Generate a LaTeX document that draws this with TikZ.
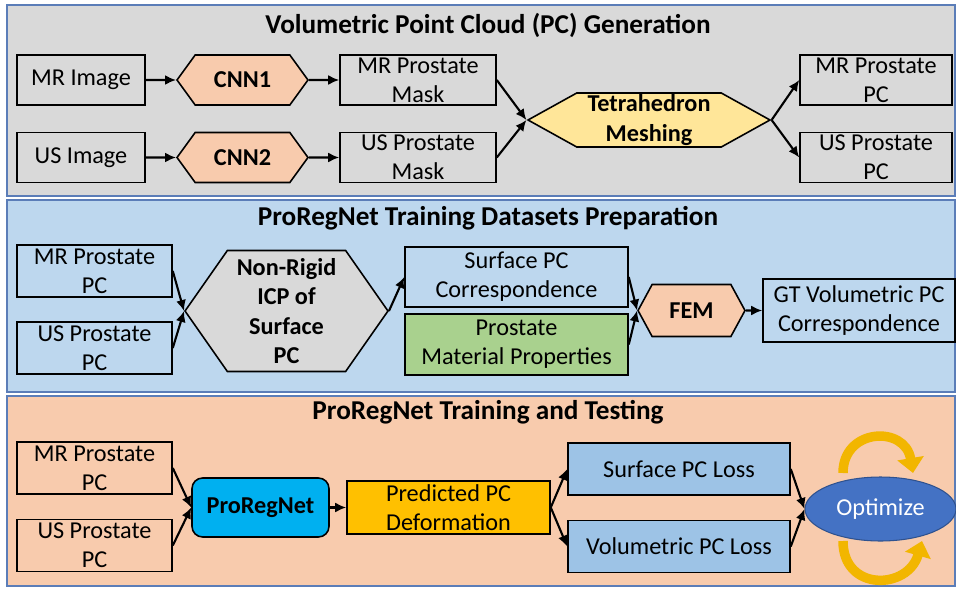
\documentclass[tikz,border=0pt]{standalone}
\usepackage{fontspec}
\setmainfont{Carlito}
\usepackage{tikz}
\usetikzlibrary{positioning,arrows.meta,shapes.geometric,shapes.symbols}

\definecolor{pgray}{HTML}{D9D9D9}
\definecolor{pblue}{HTML}{BDD7EE}
\definecolor{ppeach}{HTML}{F8CBAD}
\definecolor{pedge}{HTML}{5B7DB8}
\definecolor{tetrafill}{HTML}{FFE699}
\definecolor{matgreen}{HTML}{A9D18E}
\definecolor{netcyan}{HTML}{00B0F0}
\definecolor{predgold}{HTML}{FFC000}
\definecolor{lossblue}{HTML}{9DC3E6}
\definecolor{optblue}{HTML}{4472C4}
\definecolor{optedge}{HTML}{2F528F}
\definecolor{curvegold}{HTML}{F2B600}

\begin{document}
\begin{tikzpicture}[
        x=0.02cm, y=-0.02cm,
        panel/.style={rectangle, draw=pedge, line width=0.9pt, minimum width=18.96cm, inner sep=0pt},
        title/.style={font=\fontsize{15.5}{18}\selectfont\bfseries},
        block/.style={rectangle, draw, line width=0.9pt, align=center, inner sep=0pt, font=\fontsize{13.8}{16.6}\selectfont},
        hexa/.style={signal, signal to=west and east, draw, line width=0.9pt, align=center, inner sep=0pt, font=\fontsize{13.8}{16.6}\selectfont\bfseries},
        flow/.style={-{Latex[length=2.2mm,width=2mm]}, line width=1.2pt},
        turn/.style={-{Triangle[length=3mm,width=5.2mm]}, line width=5.4pt, draw=curvegold}
      ]

      \useasboundingbox (0,0) rectangle (956,588);

      \node[panel, fill=pgray, minimum height=3.82cm] (pgen) at (481,100.5) {};
      \node[panel, fill=pblue, minimum height=3.84cm] (pprep) at (481,296) {};
      \node[panel, fill=ppeach, minimum height=3.8cm] (ptrain) at (481,491) {};

      \node[title] (tgen) at (488,25) {Volumetric Point Cloud (PC) Generation};
      \node[title] (tprep) at (488,218) {ProRegNet Training Datasets Preparation};
      \node[title] (ttrain) at (488,412) {ProRegNet Training and Testing};

      \node[block, minimum width=2.56cm, minimum height=1cm] (mrimg) at (81,80) {MR Image};
      \node[block, minimum width=2.56cm, minimum height=1cm] (usimg) at (81,157.5) {US Image};
      \node[hexa, fill=ppeach, signal pointer angle=108, minimum width=2.62cm, minimum height=1cm] (cnna) at (242.5,80) {CNN1};
      \node[hexa, fill=ppeach, signal pointer angle=108, minimum width=2.62cm, minimum height=1cm] (cnnb) at (242.5,157.5) {CNN2};
      \node[block, minimum width=3.12cm, minimum height=1cm] (mrmask) at (418,80) {MR Prostate\\Mask};
      \node[block, minimum width=3.12cm, minimum height=1cm] (usmask) at (418,157.5) {US Prostate\\Mask};
      \node[hexa, fill=tetrafill, signal pointer angle=58, minimum width=4.84cm, minimum height=1.08cm] (tetra) at (649,120) {Tetrahedron\\Meshing};
      \node[block, minimum width=3.04cm, minimum height=1cm] (mrpca) at (876,80) {MR Prostate\\PC};
      \node[block, minimum width=3.04cm, minimum height=1cm] (uspca) at (876,157.5) {US Prostate\\PC};

      \draw[flow] (mrimg) -- (cnna);
      \draw[flow] (usimg) -- (cnnb);
      \draw[flow] (cnna) -- (mrmask);
      \draw[flow] (cnnb) -- (usmask);
      \draw[flow] (mrmask.east) -- (tetra.west);
      \draw[flow] (usmask.east) -- (tetra.west);
      \draw[flow] (tetra.east) -- (mrpca.west);
      \draw[flow] (tetra.east) -- (uspca.west);

      \node[block, minimum width=3.1cm, minimum height=1.04cm] (mrpcb) at (94.5,271) {MR Prostate\\PC};
      \node[block, minimum width=3.1cm, minimum height=1.04cm] (uspcb) at (94.5,348) {US Prostate\\PC};
      \node[hexa, fill=pgray, signal pointer angle=110, minimum width=4.06cm, minimum height=2.42cm] (icp) at (286.5,311) {Non-Rigid\\ICP of\\Surface\\PC};
      \node[block, minimum width=4.46cm, minimum height=1.2cm] (surfcorr) at (516.5,277) {Surface PC\\Correspondence};
      \node[block, fill=matgreen, minimum width=4.46cm, minimum height=1.22cm] (material) at (516.5,344.5) {Prostate\\Material Properties};
      \node[hexa, fill=ppeach, signal pointer angle=123, minimum width=2.14cm, minimum height=1.04cm] (fem) at (691.5,310.5) {FEM};
      \node[block, minimum width=3.84cm, minimum height=1.26cm] (gtcorr) at (859,310.5) {GT Volumetric PC\\Correspondence};

      \draw[flow] (mrpcb.east) -- (icp.west);
      \draw[flow] (uspcb.east) -- (icp.west);
      \draw[flow] (icp.east) -- (surfcorr.west);
      \draw[flow] (surfcorr.east) -- (fem.west);
      \draw[flow] (material.east) -- (fem.west);
      \draw[flow] (fem) -- (gtcorr);

      \node[block, minimum width=3.1cm, minimum height=1.04cm] (mrpcc) at (94.5,468) {MR Prostate\\PC};
      \node[block, minimum width=3.1cm, minimum height=1.04cm] (uspcc) at (94.5,545.5) {US Prostate\\PC};
      \node[block, fill=netcyan, rounded corners=6pt, minimum width=2.74cm, minimum height=1.18cm, font=\fontsize{13.8}{16.6}\selectfont\bfseries] (net) at (260.5,507.5) {ProRegNet};
      \node[block, fill=predgold, minimum width=4.06cm, minimum height=1.06cm] (pred) at (448.5,507.5) {Predicted PC\\Deformation};
      \node[block, fill=lossblue, minimum width=4.44cm, minimum height=1.04cm] (surfloss) at (679,469) {Surface PC Loss};
      \node[block, fill=lossblue, minimum width=4.44cm, minimum height=1.04cm] (volloss) at (679,546.5) {Volumetric PC Loss};
      \node[ellipse, draw=optedge, line width=0.6pt, fill=optblue, text=white, inner sep=0pt, minimum width=3.02cm, minimum height=1.28cm, font=\fontsize{13.8}{16.6}\selectfont] (opt) at (880.5,509) {Optimize};

      \draw[flow] (mrpcc.east) -- (net.west);
      \draw[flow] (uspcc.east) -- (net.west);
      \draw[flow] (net) -- (pred);
      \draw[flow] (pred.east) -- (surfloss.west);
      \draw[flow] (pred.east) -- (volloss.west);
      \draw[flow] (surfloss.east) -- (opt.west);
      \draw[flow] (volloss.east) -- (opt.west);

      \coordinate (topa) at (843,473);
      \coordinate (topb) at (913,473);
      \coordinate (bota) at (843,541);
      \coordinate (botb) at (922,541);
      \draw[turn] (topa) .. controls (843,428) and (905,425) .. (topb);
      \draw[turn] (bota) .. controls (843,592) and (908,590) .. (botb);

    \end{tikzpicture}
\end{document}
